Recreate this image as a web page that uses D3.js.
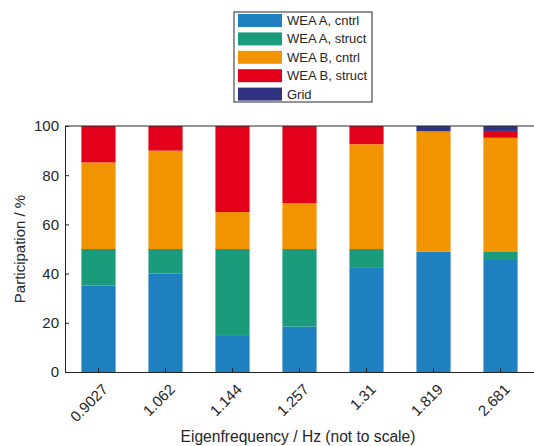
<!DOCTYPE html>
<html>
<head>
<meta charset="utf-8">
<script src="https://cdn.jsdelivr.net/npm/d3@7"></script>
<style>
	body { margin: 0; background: #fff; }
	text { font-family: "Liberation Sans", Arial, sans-serif; fill: #262626; }
</style>
</head>
<body>
<svg width="534" height="446"></svg>
<script>
// eigenfrequencies (category labels)
const categories = ["0.9027", "1.062", "1.144", "1.257", "1.31", "1.819", "2.681"];
const seriesNames = ["WEA A, cntrl", "WEA A, struct", "WEA B, cntrl", "WEA B, struct", "Grid"];
const colors = ["#1f80c0", "#1a9b7b", "#f29400", "#e2001a", "#2f3381"];

// participation in % for each series
const weaACntrl = [35.2, 40, 15, 18.5, 42.6, 48.8, 45.9];
const weaAStruct = [14.8, 10, 35, 31.5, 7.4, 0.1, 2.9];
const weaBCntrl = [35.2, 40, 15, 18.7, 42.6, 48.9, 46.4];
const weaBStruct = [14.8, 10, 35, 31.3, 7.4, 0.1, 2.8];
const grid = [0, 0, 0, 0, 0, 2.1, 2.0];
const yTicks = [0, 20, 40, 60, 80, 100];

const svg = d3.select("svg");
const margin = {left: 65, right: 0, top: 126, bottom: 74};
const width = 534 - margin.left - margin.right;
const height = 446 - margin.top - margin.bottom;

const rows = categories.map((c, i) => ({
	cat: c,
	"WEA A, cntrl": weaACntrl[i],
	"WEA A, struct": weaAStruct[i],
	"WEA B, cntrl": weaBCntrl[i],
	"WEA B, struct": weaBStruct[i],
	"Grid": grid[i]
}));
const stacked = d3.stack().keys(seriesNames)(rows);

const x = d3.scaleBand().domain(categories).range([0, width]).paddingInner(0.49).paddingOuter(0.245);
const y = d3.scaleLinear().domain([0, 100]).range([height, 0]);

const g = svg.append("g").attr("transform", `translate(${margin.left},${margin.top})`);

// bars
g.selectAll("g.series")
	.data(stacked)
	.enter().append("g")
	.attr("fill", (d, i) => colors[i])
	.selectAll("rect")
	.data(d => d)
	.enter().append("rect")
	.attr("x", d => x(d.data.cat))
	.attr("width", x.bandwidth())
	.attr("y", d => y(d[1]))
	.attr("height", d => y(d[0]) - y(d[1]));

// axes
const xAxis = g.append("g")
	.attr("transform", `translate(0,${height})`)
	.call(d3.axisBottom(x).tickSizeInner(-4).tickSizeOuter(0).tickPadding(8));
xAxis.selectAll("text")
	.attr("font-size", 15)
	.attr("text-anchor", "end")
	.attr("dy", "0.35em")
	.attr("transform", "translate(1,9) rotate(-45)");

const yAxis = g.append("g")
	.call(d3.axisLeft(y).tickValues(yTicks).tickSizeInner(-4).tickSizeOuter(0).tickPadding(6));
yAxis.selectAll("text").attr("font-size", 15);

[xAxis, yAxis].forEach(a => {
	a.selectAll("line").attr("stroke", "#262626");
	a.select(".domain").attr("stroke", "#262626");
	a.selectAll("text").attr("fill", "#333");
});

// top border of the box
g.append("line")
	.attr("x1", 0).attr("x2", width)
	.attr("y1", 0).attr("y2", 0)
	.attr("stroke", "#262626");

// axis titles
svg.append("text")
	.attr("x", margin.left + 233)
	.attr("y", 442)
	.attr("text-anchor", "middle")
	.attr("font-size", 15.6)
	.text("Eigenfrequency / Hz (not to scale)");

svg.append("text")
	.attr("transform", `translate(25,${margin.top + height / 2}) rotate(-90)`)
	.attr("text-anchor", "middle")
	.attr("font-size", 15)
	.text("Participation / %");

// legend
const legend = svg.append("g").attr("transform", "translate(234,12)");
legend.append("rect")
	.attr("width", 138).attr("height", 90)
	.attr("fill", "#fff").attr("stroke", "#262626");
seriesNames.forEach((s, i) => {
	const row = legend.append("g").attr("transform", `translate(4,${8.5 + i * 18.4})`);
	row.append("rect")
		.attr("width", 44).attr("height", 13)
		.attr("y", -6.5)
		.attr("fill", colors[i]);
	row.append("text")
		.attr("x", 49).attr("dy", "0.35em")
		.attr("font-size", 13)
		.text(s);
});
</script>
</body>
</html>
